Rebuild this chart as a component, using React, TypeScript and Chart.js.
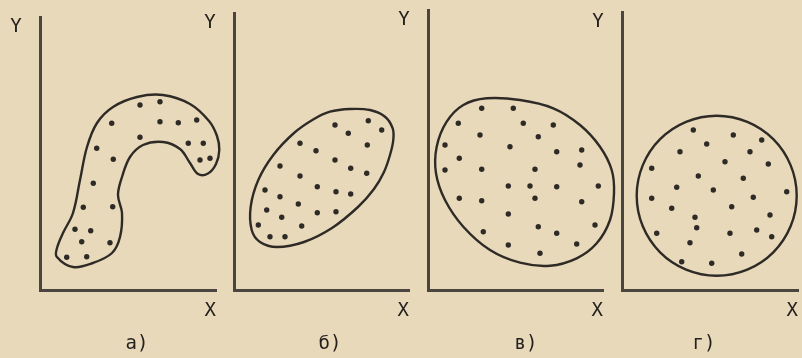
import React, { useEffect, useRef } from "react";
import { Chart, registerables } from "chart.js";

Chart.register(...registerables);

// ---- text ----
const panelLabels = ["а)", "б)", "в)", "г)"];
const xAxisTitle = "X";
const yAxisTitle = "Y";

// ---- data (units: axis lengths of each little diagram) ----
const outlineA = [
  [16.7, 33.3], [33, 23], [53, 27], [72, 37], [80, 53], [82, 77], [78, 95], [82, 113],
  [90, 133], [103, 145], [123, 148], [140, 141], [150, 127], [158, 116], [168, 116.5],
  [176, 126], [179.3, 140], [177, 154], [169, 169], [150, 186], [123, 195], [97, 193],
  [73, 183], [57, 167], [47, 143], [40, 110], [33, 77], [23, 57], [17, 42],
];
const dotsA = [
  [100, 185], [120, 188.3], [120, 168.3], [138.3, 167.3], [156.7, 170], [71.7, 166.7],
  [100, 152.7], [148.3, 146.7], [163.3, 146.7], [160, 130], [170, 131.7], [56.7, 141.7],
  [73.3, 130.7], [53.3, 106.7], [43.3, 82.7], [72.7, 83.3], [35, 60.7], [50.7, 59.3],
  [41.7, 48.3], [70, 47.3], [26.7, 32.7], [46.7, 33.3],
];

const outlineB = [
  [96, 178.3], [116, 181], [136, 180], [151, 173.3], [158.7, 161.7], [159.3, 150],
  [156, 135], [150, 118], [140, 101], [124, 83], [98, 62], [70, 48], [43, 43], [26, 48],
  [17.7, 60], [16.7, 83.3], [24.3, 110], [39.3, 135], [60, 157], [80, 171],
];
const dotsB = [
  [101, 165], [134.3, 169.3], [147.7, 160], [114.3, 156.7], [66, 146.7], [82, 139.3],
  [133.3, 145], [101, 130], [46, 124], [116.7, 121.7], [132.7, 116.7], [66, 114],
  [83.3, 103.3], [31, 100], [46, 93.3], [102, 98.3], [116.7, 96], [64.3, 86], [32.7, 80],
  [47.7, 72.7], [83.3, 77.3], [102, 78.3], [24.3, 65], [67.7, 64], [36, 53.3], [51, 53.3],
];

const outlineC = [
  [58.7, 191.7], [92, 190], [125.3, 181.7], [152, 165], [172, 143.3], [183.7, 120],
  [186, 96.7], [182, 70], [168.7, 46.7], [148.7, 31.7], [122, 24.3], [92, 27.3],
  [62, 40], [35.3, 63.3], [17, 90], [8, 116.7], [8.7, 143.3], [18.7, 168.3], [35.3, 185],
];
const dotsC = [
  [53.7, 181.7], [85.3, 181.7], [30.3, 166.7], [95.3, 166.7], [125.3, 165], [52, 155],
  [110.3, 153.3], [17, 145], [82, 143.3], [128.7, 138.3], [153.7, 140], [31.3, 131.7],
  [152, 125], [17, 120], [53.7, 120.7], [107, 120.7], [80.3, 104], [102, 104],
  [128.7, 103.3], [170.3, 104], [31.3, 91.7], [53.7, 89.3], [107, 91.7], [153.7, 88.3],
  [80.3, 76], [55.3, 58.3], [110.3, 63.3], [128.7, 56.7], [167, 65], [80.3, 45],
  [148.7, 46], [112, 36.7],
];

const outlineD = [
  [174.7, 94.3], [168.6, 124.9], [151.3, 150.9], [125.3, 168.2], [94.7, 174.3],
  [64.1, 168.2], [38.1, 150.9], [20.8, 124.9], [14.7, 94.3], [20.8, 63.7], [38.1, 37.7],
  [64.1, 20.4], [94.7, 14.3], [125.3, 20.4], [151.3, 37.7], [168.6, 63.7],
];
const dotsD = [
  [71.3, 160], [111.3, 155], [139.7, 150], [84.7, 146], [58, 138.3], [128, 138.3],
  [103, 128.3], [146.3, 126], [29.7, 121.7], [76.3, 114], [121.3, 111.7], [54.7, 102.7],
  [91.3, 100], [164.7, 98.3], [29.7, 91.7], [131.3, 92.7], [49.7, 81.7], [109.7, 83.3],
  [73, 72.7], [148, 75], [74.7, 62.3], [34.7, 56.7], [108, 56.7], [134.7, 60],
  [149.7, 53.3], [68, 47.3], [119.7, 36], [59.7, 28.3], [89.7, 26.7],
];

const xMaxes = [176, 175, 175, 176];
const yMaxes = [273, 277, 280, 278];

const outlines = [outlineA, outlineB, outlineC, outlineD];
const dotSets = [dotsA, dotsB, dotsC, dotsD];

// ---- layout & style ----
const PAD_LEFT = 34;
const layouts = [
  { left: 6, width: 220, top: 17, padRight: 10, labelDx: 97 },
  { left: 200, width: 219, top: 13, padRight: 10, labelDx: 96 },
  { left: 394, width: 223, top: 10, padRight: 14, labelDx: 98 },
  { left: 588, width: 214, top: 12, padRight: 4, labelDx: 82 },
];
const W = 802;
const H = 358;
const BG = "#e8d9ba";
const INK = "#2e2b27";
const AXIS = "#4a463f";
const TEXT = "#24211e";
const FONT = '"DejaVu Sans Mono", "Liberation Mono", monospace';
const FONT_SIZE = 19;
const LABEL_Y = 344;

function Panel({ idx }: { idx: number }) {
  const ref = useRef<HTMLCanvasElement | null>(null);
  useEffect(() => {
    const L = layouts[idx];
    const pts = outlines[idx];
    const loop = [pts[pts.length - 1], ...pts, pts[0], pts[1]].map(([x, y]) => ({ x, y }));
    const last = loop.length - 1;
    const dots = dotSets[idx].map(([x, y]) => ({ x, y }));

    const textPlugin = {
      id: "panelText",
      afterDraw(chart: any) {
        const { ctx, chartArea } = chart;
        ctx.save();
        ctx.font = `${FONT_SIZE}px ${FONT}`;
        ctx.fillStyle = TEXT;
        ctx.textAlign = "center";
        ctx.textBaseline = "middle";
        ctx.fillText(yAxisTitle, chartArea.left - 24, chartArea.top + 10);
        ctx.fillText(panelLabels[idx], chartArea.left + L.labelDx, LABEL_Y);
        ctx.restore();
      },
    };

    const hidden = "rgba(0,0,0,0)";
    const chart = new Chart(ref.current as HTMLCanvasElement, {
      type: "line",
      data: {
        datasets: [
          {
            data: loop,
            borderColor: INK,
            borderWidth: 2.4,
            pointRadius: 0,
            tension: 0.36,
            fill: false,
            clip: false,
            capBezierPoints: false,
            segment: {
              borderColor: (c: any) =>
                c.p0DataIndex === 0 || c.p1DataIndex === last ? hidden : INK,
            },
          } as any,
          {
            data: dots,
            showLine: false,
            pointRadius: 2.7,
            pointBackgroundColor: INK,
            pointBorderWidth: 0,
            clip: false,
          } as any,
        ],
      },
      options: {
        responsive: false,
        animation: false,
        devicePixelRatio: 1,
        events: [],
        layout: {
          padding: { left: PAD_LEFT, right: L.padRight, top: L.top, bottom: 35.2 },
        },
        plugins: { legend: { display: false }, tooltip: { enabled: false } },
        scales: {
          x: {
            type: "linear",
            min: 0,
            max: xMaxes[idx],
            grid: { display: false, drawTicks: false },
            ticks: { display: false },
            border: { display: true, color: AXIS, width: 3 },
            title: {
              display: true,
              text: xAxisTitle,
              align: "end",
              color: TEXT,
              font: { family: FONT, size: FONT_SIZE },
              padding: { top: 10, bottom: 0 },
            },
          },
          y: {
            type: "linear",
            min: 0,
            max: yMaxes[idx],
            grid: { display: false, drawTicks: false },
            ticks: { display: false },
            border: { display: true, color: AXIS, width: 3 },
          },
        },
      } as any,
      plugins: [textPlugin],
    });
    return () => chart.destroy();
  }, [idx]);

  const L = layouts[idx];
  return (
    <canvas
      ref={ref}
      width={L.width}
      height={H}
      style={{ position: "absolute", left: L.left, top: 0, width: L.width, height: H }}
    />
  );
}

export default function App() {
  return (
    <div
      style={{
        position: "absolute",
        left: 0,
        top: 0,
        width: W,
        height: H,
        overflow: "hidden",
        background: BG,
      }}
    >
      {[0, 1, 2, 3].map((i) => (
        <Panel key={i} idx={i} />
      ))}
    </div>
  );
}
